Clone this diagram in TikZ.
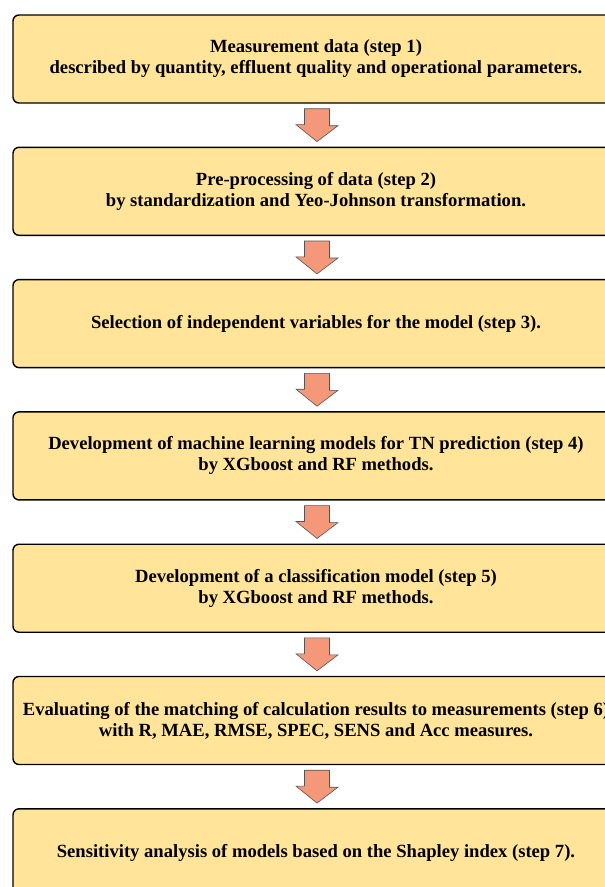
\documentclass[tikz,border=0pt]{standalone}
\usepackage{fontspec}
\setmainfont{Liberation Serif}
\usetikzlibrary{calc}
\definecolor{boxfill}{RGB}{255,228,153}
\definecolor{arrfill}{RGB}{245,152,122}
\definecolor{arrline}{RGB}{85,85,85}
\begin{document}
\begin{tikzpicture}[x=1pt,y=-1pt,
  stepbox/.style={draw=black,line width=1.4pt,fill=boxfill,rounded corners=6pt,
    minimum width=606pt,minimum height=88pt,inner sep=0pt,align=center,
    font=\fontsize{18.6}{21}\selectfont\bfseries},
  downarrow/.style={draw=arrline,line width=0.6pt,fill=arrfill}]
\useasboundingbox (0,0) rectangle (605,887);
\foreach \i/\t in {1/{Measurement data (step 1)\\described by quantity, effluent quality and operational parameters.},
  2/{Pre-processing of data (step 2)\\by standardization and Yeo-Johnson transformation.},
  3/{Selection of independent variables for the model (step 3).},
  4/{Development of machine learning models for TN prediction (step 4)\\by XGboost and RF methods.},
  5/{Development of a classification model (step 5)\\by XGboost and RF methods.},
  6/{Evaluating of the matching of calculation results to measurements (step 6)\\with R, MAE, RMSE, SPEC, SENS and Acc measures.},
  7/{Sensitivity analysis of models based on the Shapley index (step 7).}}
{
  \node[stepbox] (b\i) at (316,{59+132.3*(\i-1)}) {\t};
}
\foreach \i [evaluate=\i as \j using int(\i+1)] in {1,...,6}{
  \path (b\i.south) ++(1,5) coordinate (t\i);
  \path (b\j.north) ++(1,-5) coordinate (p\i);
  \draw[downarrow] (t\i) ++(-12.5,0) -- ++(25,0) -- ++(0,17) -- ++(8.5,0) -- (p\i) -- ++(-21,-17) -- ++(8.5,0) -- cycle;
}
\end{tikzpicture}
\end{document}
